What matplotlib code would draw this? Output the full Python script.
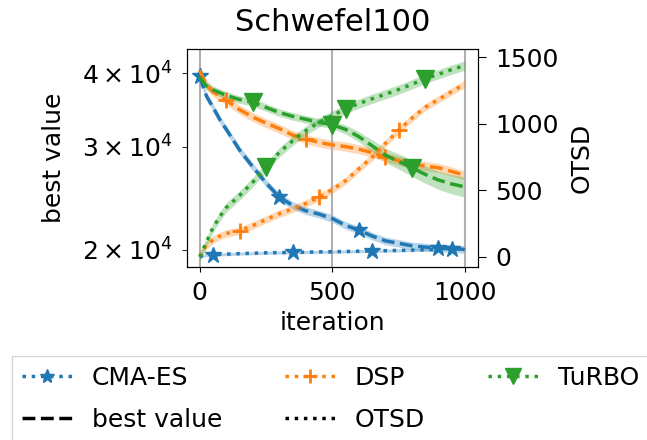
import matplotlib
matplotlib.use("Agg")
import matplotlib.pyplot as plt
from matplotlib.lines import Line2D
import numpy as np

iters = [0, 10, 25, 50, 75, 100, 150, 200, 250, 300, 350, 400, 450, 500,
         550, 600, 650, 700, 750, 800, 850, 900, 950, 1000]

# best value
cma_best = [3.96e4, 3.83e4, 3.66e4, 3.50e4, 3.34e4, 3.21e4, 2.96e4, 2.77e4, 2.60e4, 2.46e4,
            2.38e4, 2.33e4, 2.30e4, 2.26e4, 2.20e4, 2.16e4, 2.11e4, 2.07e4, 2.05e4, 2.03e4,
            2.02e4, 2.01e4, 2.01e4, 2.00e4]
dsp_best = [4.05e4, 3.95e4, 3.83e4, 3.72e4, 3.66e4, 3.60e4, 3.47e4, 3.37e4, 3.29e4, 3.22e4,
            3.14e4, 3.09e4, 3.05e4, 3.02e4, 3.00e4, 2.97e4, 2.93e4, 2.88e4, 2.84e4, 2.80e4,
            2.78e4, 2.76e4, 2.72e4, 2.68e4]
turbo_best = [3.95e4, 3.88e4, 3.81e4, 3.75e4, 3.71e4, 3.67e4, 3.61e4, 3.57e4, 3.50e4, 3.43e4,
              3.38e4, 3.34e4, 3.30e4, 3.27e4, 3.21e4, 3.12e4, 3.01e4, 2.90e4, 2.83e4, 2.76e4,
              2.69e4, 2.63e4, 2.59e4, 2.56e4]

# OTSD
cma_otsd = [0, 8, 12, 15, 18, 20, 24, 27, 30, 32, 33, 35, 37, 38, 40, 42, 44, 46, 48, 50,
            53, 56, 60, 62]
dsp_otsd = [0, 45, 85, 128, 155, 175, 195, 235, 280, 323, 360, 400, 446, 505, 571, 660, 747,
            850, 950, 1040, 1122, 1180, 1240, 1298]
turbo_otsd = [0, 45, 110, 220, 300, 370, 460, 560, 671, 784, 870, 947, 1010, 1060, 1110, 1150,
              1186, 1220, 1255, 1295, 1336, 1370, 1405, 1436]

# band half widths (relative for best value, absolute for OTSD)
cma_best_band = 0.015
dsp_best_band = 0.018
turbo_best_band = [0.015] * 14 + [0.018, 0.02, 0.024, 0.028, 0.03, 0.032, 0.034, 0.036, 0.038, 0.04]
cma_otsd_band = 12
dsp_otsd_band = 28
turbo_otsd_band = 35

methods = ["CMA-ES", "DSP", "TuRBO"]
colors = ["tab:blue", "tab:orange", "tab:green"]
markers = ["*", "+", "v"]
msizes = [12, 12, 13]

best = [cma_best, dsp_best, turbo_best]
otsd = [cma_otsd, dsp_otsd, turbo_otsd]
best_band = [cma_best_band, dsp_best_band, turbo_best_band]
otsd_band = [cma_otsd_band, dsp_otsd_band, turbo_otsd_band]
best_marks = [[0, 300, 600, 900], [100, 400, 700], [200, 500, 800]]
otsd_marks = [[50, 350, 650, 950], [150, 450, 750], [250, 550, 850]]

fontsize = 18
plt.rcParams['font.size'] = fontsize

fig = plt.figure(figsize=(6.47, 4.4), dpi=100)
ax = fig.add_axes([0.2883, 0.394, 0.4505, 0.494])
ax2 = ax.twinx()

x = np.array(iters)
lw = 2.5
for i in range(3):
    b = np.array(best[i])
    bb = np.array(best_band[i])
    mew = 2 if markers[i] == '+' else 1
    ax.fill_between(x, b * (1 - bb), b * (1 + bb), color=colors[i], alpha=0.3, lw=0)
    ax.plot(x, b, ls='--', lw=lw, color=colors[i], marker=markers[i], ms=msizes[i],
            mew=mew, markevery=list(np.isin(x, best_marks[i])))
    o = np.array(otsd[i], dtype=float)
    ob = np.array(otsd_band[i])
    ax2.fill_between(x, o - ob, o + ob, color=colors[i], alpha=0.3, lw=0)
    ax2.plot(x, o, ls=':', lw=lw, color=colors[i], marker=markers[i], ms=msizes[i],
             mew=mew, markevery=list(np.isin(x, otsd_marks[i])))

ax.set_yscale('log')
ax.set_ylim(1.87e4, 4.4e4)
ax.set_xlim(-50, 1050)
ax2.set_ylim(-74, 1558)
ax.set_xticks([0, 500, 1000])
ax2.set_yticks([0, 500, 1000, 1500])
ax.tick_params(axis='y', which='both', length=3.5, pad=6.5)
ax.tick_params(axis='x', pad=7)
ax2.tick_params(axis='y', length=6, pad=6.5)
ax.grid(axis='x', color='#b0b0b0', lw=1.5)
ax.set_xlabel('iteration')
ax.set_ylabel('best value')
ax2.set_ylabel('OTSD')
ax.yaxis.set_label_coords(-0.413, 0.5)
ax2.yaxis.set_label_coords(1.316, 0.5)
ax.set_title('Schwefel100', fontsize=22, pad=13)

handles = []
for i in range(3):
    handles.append(Line2D([], [], ls=':', lw=lw, color=colors[i], marker=markers[i], ms=msizes[i],
                          mew=2 if markers[i] == '+' else 1))
h_best = Line2D([], [], ls='--', lw=lw, color='black')
h_otsd = Line2D([], [], ls=':', lw=lw, color='black')
fig.legend([handles[0], h_best, handles[1], h_otsd, handles[2]],
           ['CMA-ES', 'best value', 'DSP', 'OTSD', 'TuRBO'],
           ncol=3, loc='upper left', bbox_to_anchor=(12 / 647, 1 - 356 / 440),
           borderaxespad=0, fancybox=False, columnspacing=2.5, markerscale=0.85,
           labelspacing=0.7)

fig.savefig('out.png', dpi=100)
